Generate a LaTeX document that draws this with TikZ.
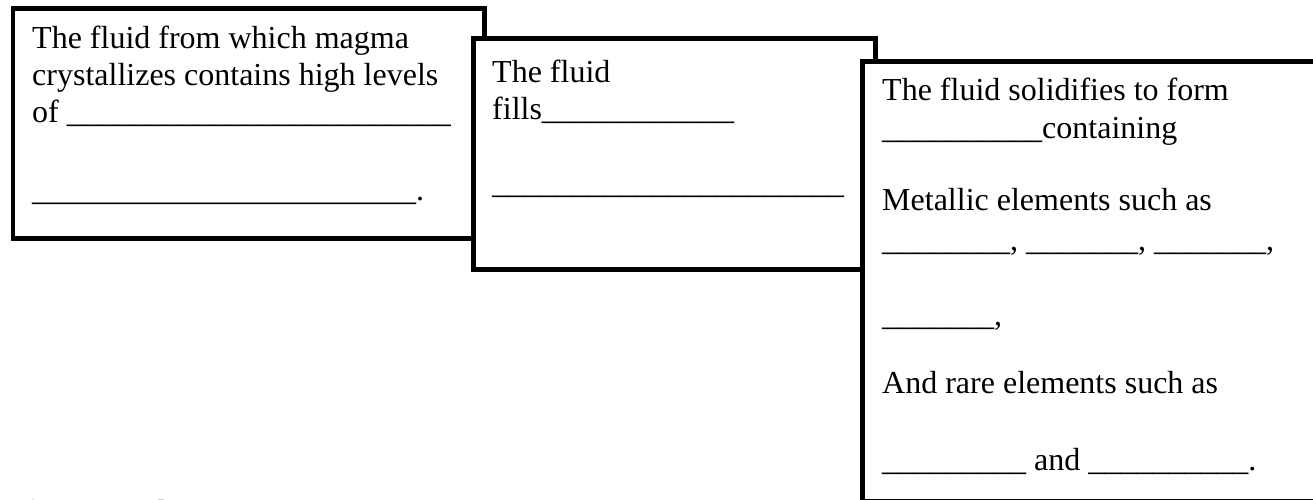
\documentclass[tikz,border=0pt]{standalone}
\usepackage{fontspec}
\setmainfont{Liberation Serif}
\usetikzlibrary{positioning}

\newcommand{\blank}[1]{\foreach \k in {1,...,#1}{\_}}

\tikzset{
	card/.style={draw=black, fill=white, line width=4.5pt, anchor=north west, inner sep=0pt},
	cardtext/.style={anchor=base west, align=left, inner sep=0pt, font=\fontsize{32}{37}\selectfont},
}

\begin{document}
\begin{tikzpicture}[x=1pt,y=-1pt]
	\useasboundingbox (0,0) rectangle (1313,499);
	% cut off heading at the bottom
	\node[anchor=base west, inner sep=0pt, font=\fontsize{32}{37}\selectfont\bfseries] (heading) at (-6,522) {Vein\hspace{49pt}Rocks\hspace{43pt}Rare};
	% first step (text anchored at its last line)
	\node[card, minimum width=471.5pt, minimum height=230pt] (magma) at (10.5,6) {};
	\node[cardtext] (magmatext) at (32,200) {The fluid from which magma\\crystallizes contains high levels\\of \blank{24}\\[41pt]\blank{24}.};
	% second step
	\node[card, minimum width=402pt, minimum height=231pt] (fill) at (471,36) {};
	\node[cardtext] (filltext) at (492,193) {The fluid\\fills\blank{12}\\[37pt]\blank{22}};
	% third step
	\node[card, minimum width=470pt, minimum height=439.5pt] (solid) at (860,59) {};
	\node[cardtext] (solidtext) at (882,470) {The fluid solidifies to form\\[1pt]\blank{10}containing\\[35pt]Metallic elements such as\\[3pt]\blank{8}, \blank{7}, \blank{7},\\[38pt]\blank{7},\\[31pt]And rare elements such as\\[40pt]\blank{9} and \blank{10}.};
\end{tikzpicture}
\end{document}
